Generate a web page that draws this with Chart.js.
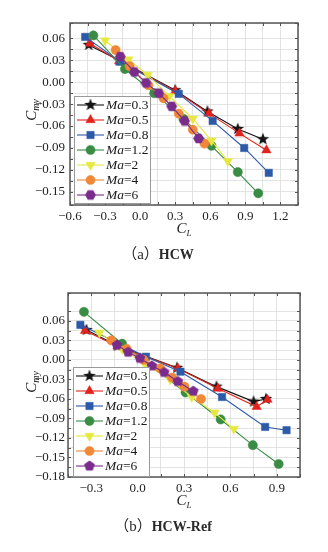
<!DOCTYPE html>
<html>
<head>
<meta charset="utf-8">
<script src="https://cdn.jsdelivr.net/npm/chart.js@4.4.1/dist/chart.umd.min.js"></script>
<style>
  html, body { margin: 0; padding: 0; background: #fff; }
  #wrap { position: relative; width: 328px; height: 552px; }
  canvas { position: absolute; left: 0; }
  #chartHCW { top: 0; width: 328px; height: 270px; }
  #chartRef { top: 270px; width: 328px; height: 282px; }
</style>
</head>
<body>
<div id="wrap">
  <canvas id="chartHCW" width="328" height="270"></canvas>
  <canvas id="chartRef" width="328" height="282"></canvas>
</div>
<script>
// Mach numbers of the seven series
const machLabels = ['0.3', '0.5', '0.8', '1.2', '2', '4', '6'];

// (a) HCW: lift coefficient C_L and pitching moment C_my
const hcwCL_03 = [-0.44, -0.18, 0.30, 0.575, 0.835, 1.05];
const hcwCm_03 = [0.051, 0.030, -0.011, -0.040, -0.064, -0.078];
const hcwCL_05 = [-0.43, -0.18, 0.30, 0.59, 0.85, 1.08];
const hcwCm_05 = [0.053, 0.029, -0.012, -0.043, -0.070, -0.093];
const hcwCL_08 = [-0.47, -0.17, 0.33, 0.62, 0.89, 1.10];
const hcwCm_08 = [0.062, 0.028, -0.016, -0.053, -0.090, -0.124];
const hcwCL_12 = [-0.40, -0.13, 0.12, 0.37, 0.61, 0.835, 1.01];
const hcwCm_12 = [0.064, 0.018, -0.015, -0.050, -0.087, -0.123, -0.152];
const hcwCL_2  = [-0.30, -0.10, 0.065, 0.25, 0.45, 0.61, 0.75];
const hcwCm_2  = [0.057, 0.031, 0.010, -0.019, -0.050, -0.080, -0.108];
const hcwCL_4  = [-0.21, -0.09, 0.07, 0.20, 0.33, 0.45, 0.55];
const hcwCm_4  = [0.044, 0.022, -0.004, -0.022, -0.043, -0.065, -0.084];
const hcwCL_6  = [-0.17, -0.05, 0.05, 0.16, 0.27, 0.38, 0.50];
const hcwCm_6  = [0.035, 0.014, -0.001, -0.015, -0.033, -0.053, -0.077];

// (b) HCW-Ref
const refCL_03 = [-0.33, -0.13, 0.255, 0.51, 0.75, 0.83];
const refCm_03 = [0.046, 0.022, -0.012, -0.041, -0.064, -0.060];
const refCL_05 = [-0.34, -0.13, 0.26, 0.52, 0.77, 0.84];
const refCm_05 = [0.045, 0.021, -0.013, -0.044, -0.072, -0.061];
const refCL_08 = [-0.37, 0.054, 0.277, 0.546, 0.825, 0.963];
const refCm_08 = [0.054, 0.005, -0.018, -0.057, -0.103, -0.108];
const refCL_12 = [-0.347, -0.10, 0.31, 0.537, 0.745, 0.912];
const refCm_12 = [0.074, 0.025, -0.050, -0.0915, -0.131, -0.160];
const refCL_2  = [-0.247, -0.10, 0.048, 0.21, 0.35, 0.498, 0.622];
const refCm_2  = [0.042, 0.017, -0.0066, -0.030, -0.057, -0.081, -0.106];
const refCL_4  = [-0.17, -0.07, 0.04, 0.146, 0.223, 0.303, 0.41];
const refCm_4  = [0.030, 0.017, 0.000, -0.013, -0.027, -0.041, -0.060];
const refCL_6  = [-0.133, -0.061, 0.015, 0.092, 0.172, 0.26, 0.36];
const refCm_6  = [0.023, 0.012, 0.0026, -0.009, -0.019, -0.033, -0.048];

// Labelled tick values
const hcwXTicks = [-0.6, -0.3, 0.0, 0.3, 0.6, 0.9, 1.2];
const hcwYTicks = [0.06, 0.03, 0.00, -0.03, -0.06, -0.09, -0.12, -0.15];
const refXTicks = [-0.3, 0.0, 0.3, 0.6, 0.9];
const refYTicks = [0.09, 0.06, 0.03, 0.00, -0.03, -0.06, -0.09, -0.12, -0.15, -0.18];

const SERIF = "'Liberation Serif', 'Times New Roman', serif";
Chart.defaults.font.family = SERIF;

const COLORS = ['#141414', '#e2231d', '#2c5aa8', '#3a8c45', '#e6e840', '#f08838', '#7a2c8c'];

// filled polygon / star marker drawn on a small canvas
function polyMarker(n, rOuter, rInner, color, rot) {
  const s = Math.ceil(rOuter * 2 + 2);
  const c = document.createElement('canvas');
  c.width = s; c.height = s;
  const g = c.getContext('2d');
  g.fillStyle = color;
  g.beginPath();
  const pts = rInner ? n * 2 : n;
  for (let k = 0; k < pts; k++) {
    const r = rInner ? (k % 2 ? rInner : rOuter) : rOuter;
    const a = -Math.PI / 2 + (rot || 0) + k * 2 * Math.PI / pts;
    const px = s / 2 + r * Math.cos(a), py = s / 2 + r * Math.sin(a);
    if (k === 0) g.moveTo(px, py); else g.lineTo(px, py);
  }
  g.closePath();
  g.fill();
  return c;
}

const starMark = polyMarker(5, 6.6, 2.7, COLORS[0]);
const hexMark = polyMarker(6, 5.4, 0, COLORS[6], Math.PI / 6);
const pentMark = polyMarker(5, 5.6, 0, COLORS[6]);

function markerStyles(lastMark) {
  return [
    { pointStyle: starMark, pointRadius: 6.6 },
    { pointStyle: 'triangle', pointRadius: 5.4 },
    { pointStyle: 'rect', pointRadius: 5.2 },
    { pointStyle: 'circle', pointRadius: 4.6 },
    { pointStyle: 'triangle', pointRadius: 5.4, pointRotation: 180 },
    { pointStyle: 'circle', pointRadius: 4.6 },
    { pointStyle: lastMark, pointRadius: 5.4 }
  ];
}

function toPoints(xs, ys) { return xs.map((x, i) => ({ x: x, y: ys[i] })); }

function buildDatasets(pairs, lastMark) {
  const marks = markerStyles(lastMark);
  return pairs.map((p, i) => Object.assign({
    label: 'Ma=' + machLabels[i],
    data: toPoints(p[0], p[1]),
    showLine: true,
    borderColor: COLORS[i],
    backgroundColor: COLORS[i],
    pointBorderColor: COLORS[i],
    pointBackgroundColor: COLORS[i],
    borderWidth: 1.1,
    pointBorderWidth: 0.5,
    order: 6 - i
  }, marks[i]));
}

function fmt(v, d) {
  if (Math.abs(v) < 1e-9) v = 0;
  return (v < 0 ? '\u2212' : '') + Math.abs(v).toFixed(d);
}
function hasTick(list, v) { return list.some(t => Math.abs(t - v) < 1e-6); }

// frame, inward ticks, legend, axis titles and caption
const decorPlugin = {
  id: 'decor',
  afterDatasetsDraw(chart, args, o) {
    const ctx = chart.ctx, a = chart.chartArea;
    ctx.save();
    // inward tick marks on all four sides
    ctx.strokeStyle = '#555';
    ctx.lineWidth = 1;
    chart.scales.x.ticks.forEach(t => {
      const px = Math.round(chart.scales.x.getPixelForValue(t.value)) + 0.5;
      ctx.beginPath();
      ctx.moveTo(px, a.bottom); ctx.lineTo(px, a.bottom - 3);
      ctx.moveTo(px, a.top); ctx.lineTo(px, a.top + 3);
      ctx.stroke();
    });
    chart.scales.y.ticks.forEach(t => {
      const py = Math.round(chart.scales.y.getPixelForValue(t.value)) + 0.5;
      ctx.beginPath();
      ctx.moveTo(a.left, py); ctx.lineTo(a.left + 3, py);
      ctx.moveTo(a.right, py); ctx.lineTo(a.right - 3, py);
      ctx.stroke();
    });
    // plot frame
    ctx.strokeStyle = '#555';
    ctx.lineWidth = 1.5;
    ctx.strokeRect(a.left, a.top, a.right - a.left, a.bottom - a.top);

    // legend box
    const lx = a.left + o.legendDx, ly = a.top + o.legendDy;
    const lw = 76, lh = o.legendH;
    ctx.fillStyle = '#fff';
    ctx.fillRect(lx, ly, lw, lh);
    ctx.strokeStyle = '#9a9a9a';
    ctx.lineWidth = 1;
    ctx.strokeRect(lx + 0.5, ly + 0.5, lw, lh);
    chart.data.datasets.forEach((ds, i) => {
      const y = ly + 9 + i * 15;
      ctx.strokeStyle = ds.borderColor;
      ctx.lineWidth = 1.1;
      ctx.beginPath();
      ctx.moveTo(lx + 3, y); ctx.lineTo(lx + 30, y);
      ctx.stroke();
      ctx.fillStyle = ds.pointBackgroundColor;
      ctx.strokeStyle = ds.pointBorderColor;
      ctx.lineWidth = 0.5;
      Chart.helpers.drawPoint(ctx, {
        pointStyle: ds.pointStyle, radius: ds.pointRadius,
        rotation: ds.pointRotation || 0, borderWidth: 0.5
      }, lx + 16.5, y);
      ctx.fillStyle = '#1a1a1a';
      ctx.textBaseline = 'middle';
      ctx.textAlign = 'left';
      ctx.font = 'italic 13.5px ' + SERIF;
      ctx.fillText('Ma', lx + 32, y + 0.5);
      const w = ctx.measureText('Ma').width;
      ctx.font = '13.5px ' + SERIF;
      ctx.fillText('=' + machLabels[i], lx + 32 + w, y + 0.5);
    });

    // y-axis title C_my (rotated)
    ctx.fillStyle = '#1a1a1a';
    ctx.save();
    ctx.translate(31, a.top + o.yTitleDy);
    ctx.rotate(-Math.PI / 2);
    ctx.textBaseline = 'alphabetic';
    ctx.font = 'italic 15px ' + SERIF;
    const cw = ctx.measureText('C').width;
    ctx.font = 'italic 10px ' + SERIF;
    const sw = ctx.measureText('my').width;
    const sx = -(cw + sw) / 2;
    ctx.font = 'italic 15px ' + SERIF;
    ctx.fillText('C', sx, 5);
    ctx.font = 'italic 10px ' + SERIF;
    ctx.fillText('my', sx + cw, 8);
    ctx.restore();

    // x-axis title C_L
    const cx = (a.left + a.right) / 2;
    ctx.textBaseline = 'alphabetic';
    ctx.font = 'italic 15px ' + SERIF;
    const cw2 = ctx.measureText('C').width;
    ctx.font = 'italic 9px ' + SERIF;
    const lw2 = ctx.measureText('L').width;
    const x0 = cx - (cw2 + lw2) / 2;
    ctx.font = 'italic 15px ' + SERIF;
    ctx.textAlign = 'left';
    ctx.fillText('C', x0, a.bottom + 28);
    ctx.font = 'italic 9px ' + SERIF;
    ctx.fillText('L', x0 + cw2, a.bottom + 31);

    // caption
    ctx.fillStyle = '#2a2a2a';
    ctx.textBaseline = 'middle';
    const tagFont = "15px 'Liberation Serif', 'Noto Sans CJK SC', serif";
    const nameFont = "600 14px 'Liberation Serif', serif";
    ctx.font = tagFont;
    const w1 = ctx.measureText(o.captionTag).width;
    ctx.font = nameFont;
    const w2 = ctx.measureText(o.captionName).width;
    const capX = o.captionX - (w1 + w2) / 2;
    ctx.font = tagFont;
    ctx.fillText(o.captionTag, capX, o.captionY);
    ctx.font = nameFont;
    ctx.fillText(o.captionName, capX + w1, o.captionY);
    ctx.restore();
  }
};

function makeChart(id, datasets, cfg) {
  return new Chart(document.getElementById(id), {
    type: 'scatter',
    data: { datasets: datasets },
    options: {
      responsive: false,
      animation: false,
      events: [],
      layout: { padding: { left: 0, right: cfg.padRight, top: 23, bottom: 0 } },
      plugins: {
        legend: { display: false },
        tooltip: { enabled: false },
        decor: cfg.decor
      },
      scales: {
        x: {
          type: 'linear',
          min: cfg.xMin, max: cfg.xMax,
          grid: { color: '#dcdcdc', lineWidth: 0.8, drawTicks: false },
          border: { display: false },
          ticks: {
            stepSize: 0.15, autoSkip: false, maxRotation: 0, padding: 4,
            color: '#1e1e1e', font: { size: 13, family: SERIF },
            callback: v => hasTick(cfg.xTicks, v) ? fmt(v, 1) : ''
          },
          afterFit: s => { s.height = cfg.xHeight; }
        },
        y: {
          type: 'linear',
          min: cfg.yMin, max: cfg.yMax,
          grid: { color: '#dcdcdc', lineWidth: 0.8, drawTicks: false },
          border: { display: false },
          ticks: {
            stepSize: 0.015, autoSkip: false, padding: cfg.yPad,
            color: '#1e1e1e', font: { size: 13, family: SERIF },
            callback: v => hasTick(cfg.yTicks, v) ? fmt(v, 2) : ''
          },
          afterFit: s => { s.width = cfg.yWidth; }
        }
      }
    },
    plugins: [decorPlugin]
  });
}

makeChart('chartHCW', buildDatasets([
  [hcwCL_03, hcwCm_03], [hcwCL_05, hcwCm_05], [hcwCL_08, hcwCm_08], [hcwCL_12, hcwCm_12],
  [hcwCL_2, hcwCm_2], [hcwCL_4, hcwCm_4], [hcwCL_6, hcwCm_6]
], hexMark), {
  xMin: -0.6, xMax: 1.35, yMin: -0.168, yMax: 0.081,
  xTicks: hcwXTicks, yTicks: hcwYTicks,
  padRight: 30, xHeight: 65, yWidth: 70, yPad: 5,
  decor: { legendDx: 4, legendDy: 73, legendH: 107, yTitleDy: 87,
           captionTag: '（a）', captionName: 'HCW', captionX: 158, captionY: 255 }
});

makeChart('chartRef', buildDatasets([
  [refCL_03, refCm_03], [refCL_05, refCm_05], [refCL_08, refCm_08], [refCL_12, refCm_12],
  [refCL_2, refCm_2], [refCL_4, refCm_4], [refCL_6, refCm_6]
], pentMark), {
  xMin: -0.45, xMax: 1.05, yMin: -0.18, yMax: 0.103,
  xTicks: refXTicks, yTicks: refYTicks,
  padRight: 28, xHeight: 75, yWidth: 68, yPad: 3,
  decor: { legendDx: 5, legendDy: 74, legendH: 109, yTitleDy: 89,
           captionTag: '（b）', captionName: 'HCW-Ref', captionX: 163, captionY: 257 }
});
</script>
</body>
</html>
